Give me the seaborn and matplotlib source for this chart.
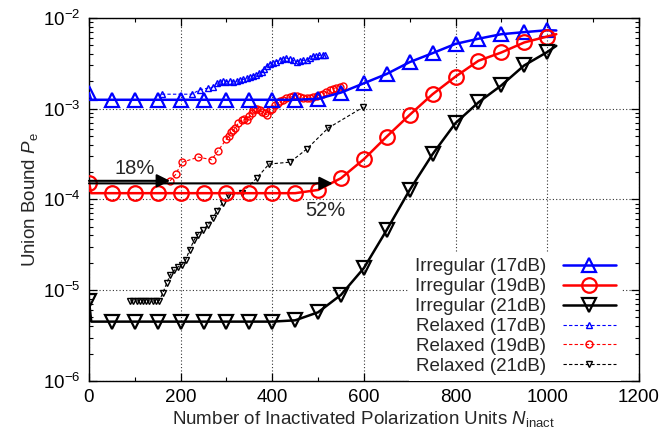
import numpy as np
import pandas as pd
import seaborn as sns
import matplotlib.pyplot as plt
from matplotlib.ticker import MultipleLocator, LogLocator, NullFormatter

# --- Irregular curves (solid, big markers every 50 units) ---
irr_x = [0, 5, 50, 100, 150, 200, 250, 300, 350, 400, 450, 500, 550, 600,
         650, 700, 750, 800, 850, 900, 950, 1000, 1020]
irr17 = [1.48e-3, 1.25e-3, 1.25e-3, 1.25e-3, 1.25e-3, 1.25e-3, 1.25e-3, 1.25e-3,
         1.25e-3, 1.25e-3, 1.25e-3, 1.28e-3, 1.5e-3, 1.9e-3, 2.41e-3, 3.25e-3,
         4.08e-3, 5.16e-3, 5.88e-3, 6.6e-3, 6.95e-3, 7.3e-3, 7.25e-3]
irr19 = [1.53e-4, 1.17e-4, 1.17e-4, 1.17e-4, 1.17e-4, 1.17e-4, 1.17e-4, 1.17e-4,
         1.17e-4, 1.17e-4, 1.17e-4, 1.27e-4, 1.71e-4, 2.77e-4, 4.92e-4, 8.53e-4,
         1.44e-3, 2.25e-3, 3.36e-3, 4.15e-3, 5.35e-3, 6.22e-3, 6.6e-3]
irr21 = [7.67e-6, 4.5e-6, 4.5e-6, 4.5e-6, 4.5e-6, 4.5e-6, 4.5e-6, 4.5e-6,
         4.5e-6, 4.5e-6, 4.65e-6, 5.7e-6, 8.87e-6, 1.75e-5, 4.61e-5, 1.27e-4,
         3.15e-4, 6.92e-4, 1.17e-3, 1.80e-3, 2.99e-3, 4.19e-3, 4.91e-3]

# --- Relaxed curves (dashed, small markers at every point) ---
rel17_x = [159, 224, 242, 260, 270, 279, 285, 293, 300, 308, 315, 323, 330, 337,
           345, 352, 358, 365, 371, 377, 383, 389, 395, 401, 408, 417, 424, 431,
           438, 445, 453, 460, 468, 475, 482, 489, 496, 503, 510, 515]
rel17_y = [1.44e-3, 1.44e-3, 1.61e-3, 1.68e-3, 1.72e-3, 1.9e-3, 1.95e-3, 2.0e-3,
           1.98e-3, 2.0e-3, 1.97e-3, 2.0e-3, 2.05e-3, 2.1e-3, 2.15e-3, 2.25e-3,
           2.3e-3, 2.35e-3, 2.45e-3, 2.56e-3, 2.75e-3, 2.95e-3, 3.1e-3, 3.2e-3,
           3.3e-3, 3.44e-3, 3.55e-3, 3.6e-3, 3.5e-3, 3.4e-3, 3.3e-3, 3.35e-3,
           3.4e-3, 3.44e-3, 3.6e-3, 3.8e-3, 3.75e-3, 3.85e-3, 3.9e-3, 3.9e-3]

rel19_x = [177, 190, 202, 239, 268, 282, 300, 305, 311, 315, 319, 326, 333, 338,
           344, 350, 355, 358, 362, 367, 373, 378, 384, 388, 395, 400, 406, 412,
           417, 424, 431, 438, 445, 453, 460, 468, 475, 482, 490, 497, 504, 511,
           518, 526, 533, 540, 548, 555]
rel19_y = [1.6e-4, 1.9e-4, 2.55e-4, 2.92e-4, 2.73e-4, 3.45e-4, 4.6e-4, 5.0e-4,
           5.5e-4, 5.8e-4, 6.1e-4, 6.9e-4, 7.4e-4, 7.6e-4, 7.5e-4, 8.2e-4,
           8.9e-4, 9.7e-4, 1.0e-3, 9.9e-4, 9.7e-4, 9.2e-4, 8.9e-4, 8.6e-4,
           9.7e-4, 1.0e-3, 1.1e-3, 1.15e-3, 1.2e-3, 1.25e-3, 1.3e-3, 1.33e-3,
           1.36e-3, 1.36e-3, 1.33e-3, 1.3e-3, 1.32e-3, 1.3e-3, 1.35e-3, 1.38e-3,
           1.4e-3, 1.45e-3, 1.52e-3, 1.61e-3, 1.66e-3, 1.7e-3, 1.75e-3, 1.78e-3]

rel21_x = [90, 97, 104, 111, 118, 125, 132, 139, 146, 153, 161, 170, 177, 186,
           195, 202, 211, 220, 230, 237, 249, 260, 270, 279, 292, 304, 333, 366,
           393, 439, 475, 522, 599]
rel21_y = [7.6e-6, 7.6e-6, 7.6e-6, 7.6e-6, 7.6e-6, 7.6e-6, 7.6e-6, 7.6e-6,
           7.6e-6, 7.6e-6, 9.25e-6, 1.2e-5, 1.47e-5, 1.65e-5, 1.81e-5, 1.88e-5,
           2.15e-5, 2.8e-5, 3.6e-5, 4.1e-5, 4.6e-5, 5.25e-5, 6.2e-5, 7.4e-5,
           9.2e-5, 1.12e-4, 1.17e-4, 1.71e-4, 2.45e-4, 2.57e-4, 3.57e-4, 6.1e-4,
           1.04e-3]

sns.set_theme(style="ticks")
plt.rcParams["font.family"] = ["Liberation Sans", "DejaVu Sans"]
plt.rcParams["mathtext.fontset"] = "custom"
plt.rcParams["mathtext.rm"] = "Liberation Sans"
plt.rcParams["mathtext.it"] = "Liberation Sans:italic"
plt.rcParams["mathtext.bf"] = "Liberation Sans:bold"

fig = plt.figure(figsize=(6.64, 4.45), dpi=100)
ax = fig.add_axes([0.134, 0.144, 0.828, 0.816])

mark_idx = [0] + list(range(2, len(irr_x) - 1))
irr_styles = [
    (irr17, "blue", "^", "Irregular (17dB)"),
    (irr19, "red", "o", "Irregular (19dB)"),
    (irr21, "black", "v", "Irregular (21dB)"),
]
for ys, col, mk, lab in irr_styles:
    sns.lineplot(x=irr_x, y=ys, ax=ax, color=col, lw=1.8, marker=mk,
                 markersize=10.5, markerfacecolor="none", markeredgecolor=col,
                 markeredgewidth=1.6, markevery=mark_idx, estimator=None,
                 sort=False, label=lab, zorder=3)

rel_styles = [
    (rel17_x, rel17_y, "blue", "^", "Relaxed (17dB)"),
    (rel19_x, rel19_y, "red", "o", "Relaxed (19dB)"),
    (rel21_x, rel21_y, "black", "v", "Relaxed (21dB)"),
]
for xs, ys, col, mk, lab in rel_styles:
    sns.lineplot(x=xs, y=ys, ax=ax, color=col, lw=0.8, linestyle=(0, (3, 2)),
                 marker=mk, markersize=5, markerfacecolor="none",
                 markeredgecolor=col, markeredgewidth=1.0, estimator=None,
                 sort=False, label=lab, zorder=2)

# arrows
ax.annotate("", xy=(177, 1.6e-4), xytext=(0, 1.6e-4),
            arrowprops=dict(arrowstyle="-|>", color="black", lw=1.5,
                            mutation_scale=20, shrinkA=0, shrinkB=0), zorder=4)
ax.annotate("", xy=(532, 1.5e-4), xytext=(0, 1.5e-4),
            arrowprops=dict(arrowstyle="-|>", color="black", lw=1.5,
                            mutation_scale=20, shrinkA=0, shrinkB=0), zorder=4)
ax.text(100, 2.2e-4, "18%", fontsize=14.5, ha="center", va="center")
ax.text(515, 7.6e-5, "52%", fontsize=14.5, ha="center", va="center")

ax.set_yscale("log")
ax.set_xlim(0, 1200)
ax.set_ylim(1e-6, 1e-2)
ax.xaxis.set_major_locator(MultipleLocator(200))
ax.xaxis.set_minor_locator(MultipleLocator(100))
ax.yaxis.set_major_locator(LogLocator(base=10, numticks=10))
ax.yaxis.set_minor_locator(LogLocator(base=10, subs=np.arange(2, 10), numticks=20))
ax.yaxis.set_minor_formatter(NullFormatter())
ax.tick_params(which="both", direction="in", top=True, right=True,
               labelsize=13.5, colors="black", pad=6)
ax.tick_params(which="major", length=6, width=0.9)
ax.tick_params(which="minor", length=3, width=0.8)
ax.grid(True, which="major", linestyle=(0, (1, 2)), color="black", lw=0.8, alpha=0.8)
for s in ax.spines.values():
    s.set_linewidth(1.0)
    s.set_color("black")

ax.set_xlabel("Number of Inactivated Polarization Units $N_\\mathrm{inact}$",
              fontsize=13.5, labelpad=2)
ax.set_ylabel("Union Bound $P_\\mathrm{e}$", fontsize=13.5, labelpad=2)

leg = ax.legend(loc="lower right", bbox_to_anchor=(0.985, -0.025), markerfirst=False,
                fontsize=13.5, handlelength=2.8, labelspacing=0.15, handletextpad=0.9,
                borderpad=0.3, frameon=True, facecolor="white", edgecolor="none",
                framealpha=1.0, fancybox=False)

fig.savefig("out.png", dpi=100)
